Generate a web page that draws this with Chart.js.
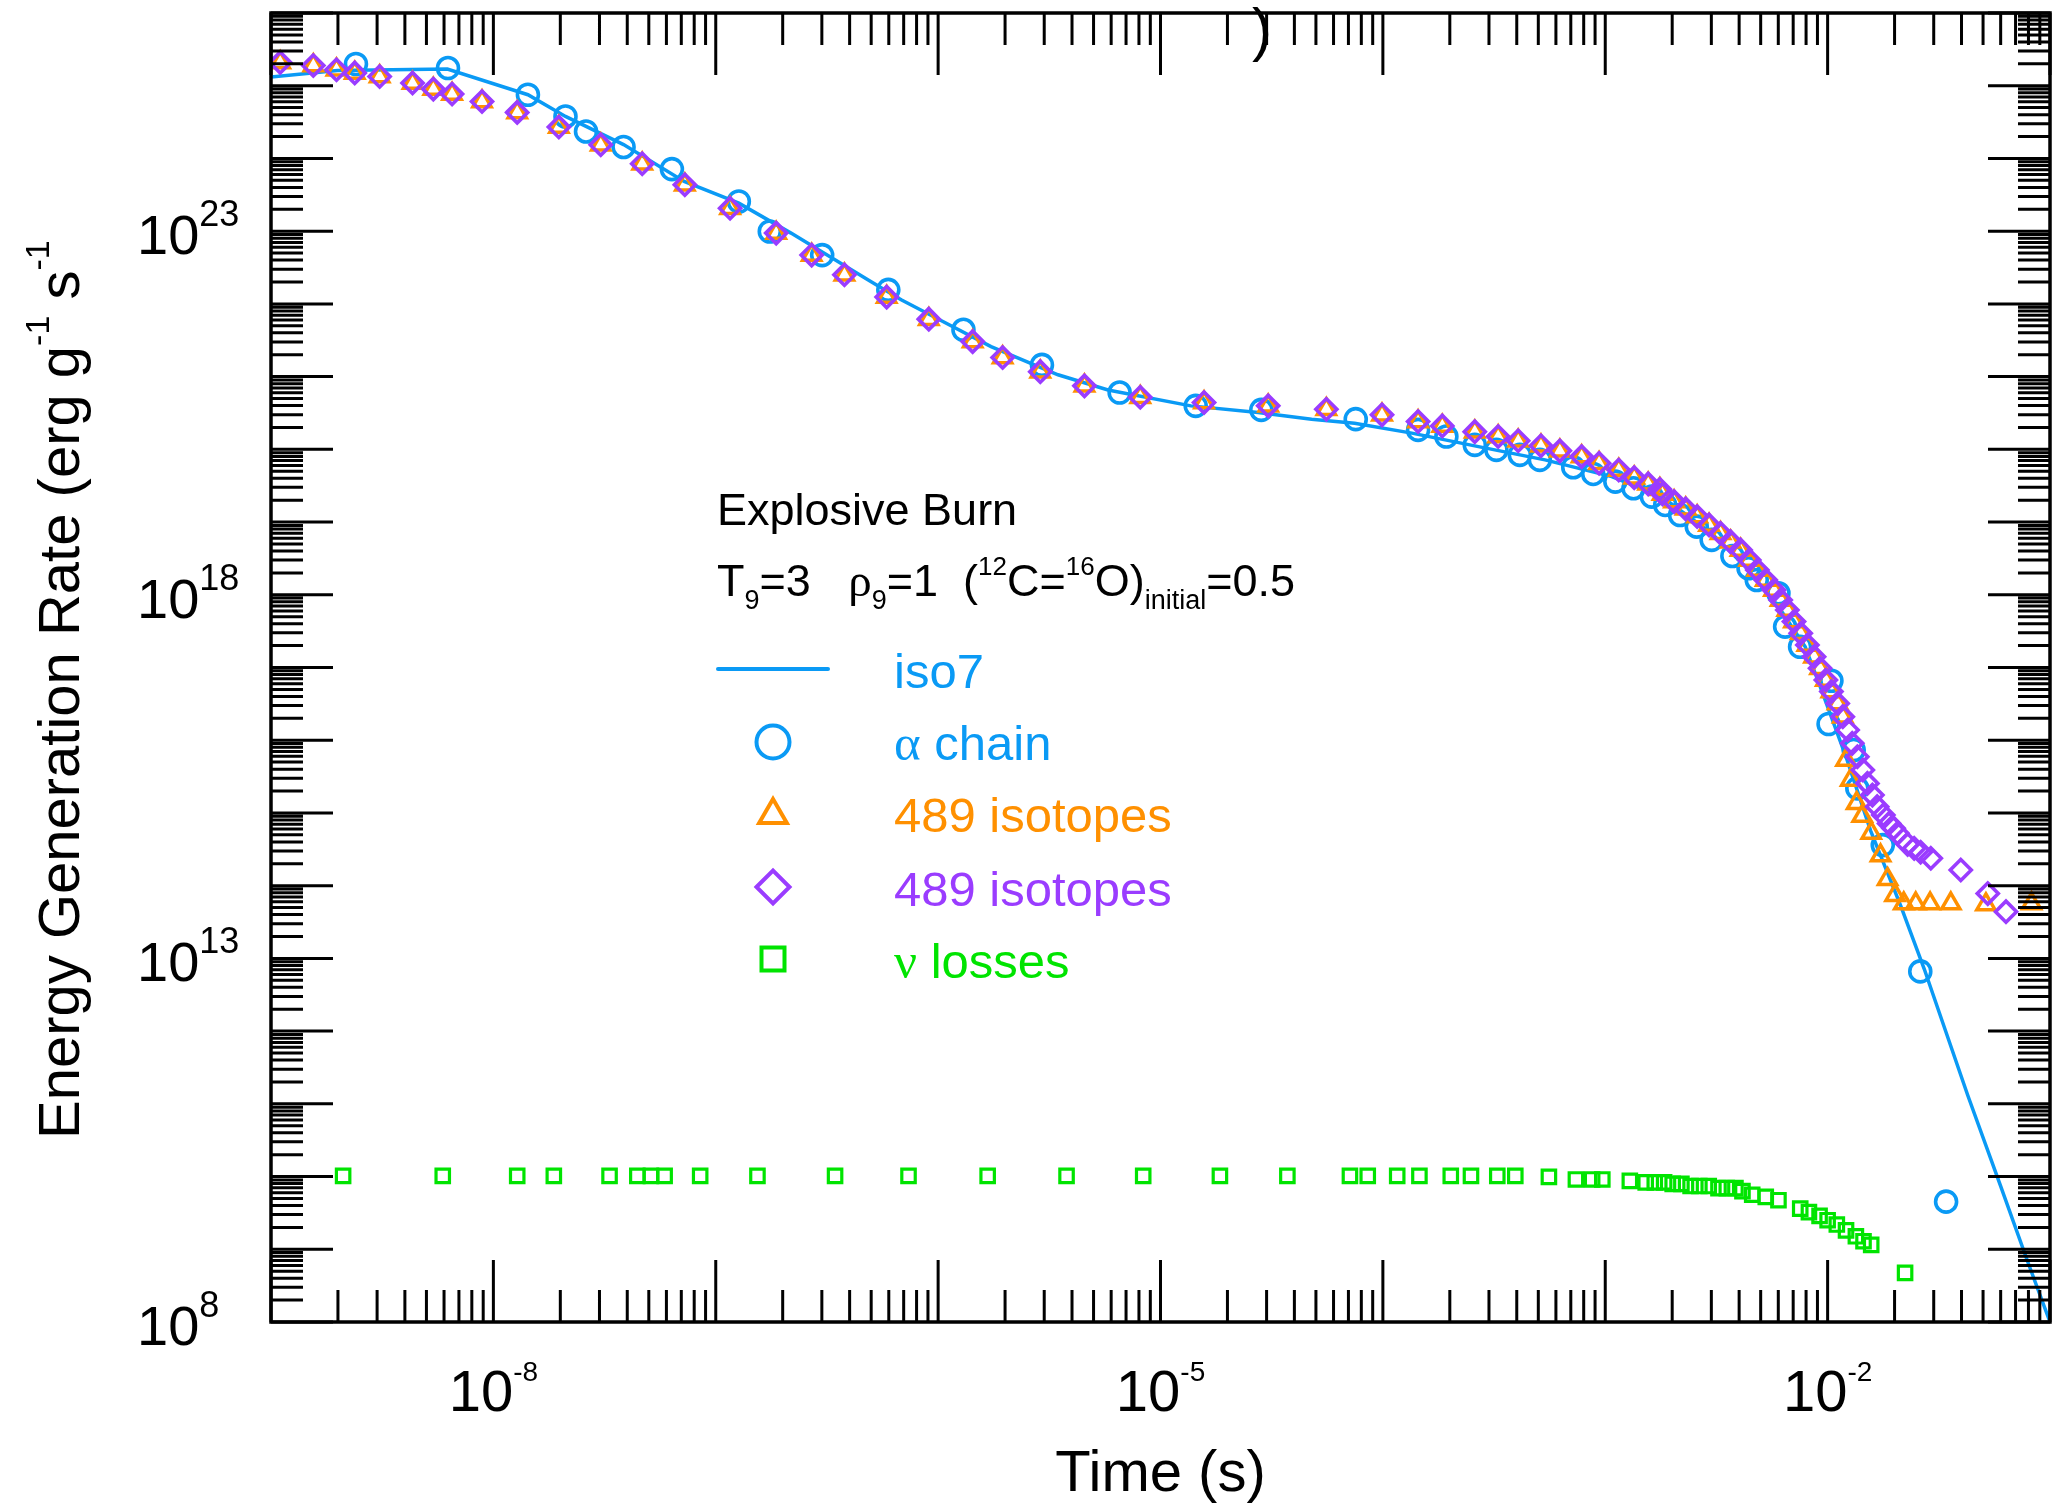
<!DOCTYPE html>
<html>
<head>
<meta charset="utf-8">
<title>Explosive Burn - energy generation rate</title>
<script src="https://cdn.jsdelivr.net/npm/chart.js@4.4.1/dist/chart.umd.min.js"></script>
<style>
  html, body { margin: 0; padding: 0; background: #fff; }
  #wrap { width: 2053px; height: 1505px; }
</style>
</head>
<body>
<div id="wrap"><canvas id="burnChart" width="2053" height="1505"></canvas></div>
<script>
// values (time in s, rate in erg/g/s)

// iso7 network (solid line)
const iso7Time = [1.00e-9, 1.99e-9, 6.21e-9, 1.43e-8, 2.11e-8, 3.85e-8, 7.21e-8, 1.27e-7, 2.18e-7,
  4.83e-7, 6.82e-7, 1.03e-6, 1.73e-6, 3.46e-6, 5.81e-6, 1.37e-5, 2.75e-5, 4.78e-5, 7.46e-5,
  1.35e-4, 2.69e-4, 5.36e-4, 1.07e-3, 1.79e-3, 3.01e-3, 4.26e-3, 6.01e-3, 7.93e-3, 9.75e-3,
  1.22e-2, 1.56e-2, 2.13e-2, 2.72e-2, 4.27e-2, 6.01e-2, 7.94e-2, 9.93e-2];
const iso7Rate = [1.32e25, 1.62e25, 1.70e25, 7.52e24, 3.78e24, 1.55e24, 4.82e23, 2.43e23, 9.40e22,
  2.14e22, 1.14e22, 5.90e21, 2.59e21, 1.06e21, 6.56e20, 3.96e20, 3.20e20, 2.60e20, 2.29e20,
  1.67e20, 1.09e20, 7.16e19, 4.22e19, 2.24e19, 7.01e18, 2.44e18, 6.87e17, 1.93e17, 3.57e16,
  5.50e15, 5.73e14, 5.31e13, 7.14e12, 1.30e11, 7.28e9, 6.73e8, 1.06e8];

// alpha chain (open circles)
const alphaTime = [2.41e-9, 6.25e-9, 1.43e-8, 2.11e-8, 2.61e-8, 3.85e-8, 6.35e-8, 1.27e-7, 1.75e-7,
  3.01e-7, 5.97e-7, 1.30e-6, 2.93e-6, 6.55e-6, 1.44e-5, 2.84e-5, 7.55e-5, 1.44e-4, 1.93e-4,
  2.59e-4, 3.24e-4, 4.13e-4, 5.08e-4, 7.18e-4, 8.83e-4, 1.11e-3, 1.34e-3, 1.62e-3, 1.86e-3,
  2.17e-3, 2.58e-3, 3.01e-3, 3.73e-3, 4.41e-3, 4.80e-3, 6.01e-3, 6.44e-3, 7.52e-3, 1.01e-2,
  1.04e-2, 1.31e-2, 1.36e-2, 1.77e-2, 2.61e-2, 3.41e-2];
const alphaRate = [1.99e25, 1.75e25, 7.52e24, 3.78e24, 2.35e24, 1.44e24, 7.14e23, 2.56e23, 9.91e22,
  4.69e22, 1.56e22, 4.40e21, 1.45e21, 6.04e20, 3.96e20, 3.49e20, 2.60e20, 1.85e20, 1.50e20,
  1.15e20, 9.82e19, 8.39e19, 7.16e19, 5.68e19, 4.59e19, 3.60e19, 2.92e19, 2.24e19, 1.72e19,
  1.25e19, 8.65e18, 5.68e18, 3.42e18, 2.32e18, 1.60e18, 1.05e18, 3.65e17, 1.93e17, 1.67e16,
  6.56e16, 7.33e15, 2.18e15, 3.61e14, 6.62e12, 4.52e9];

// 489 isotopes (open triangles)
const triTime = [1.10e-9, 1.55e-9, 1.97e-9, 2.38e-9, 3.08e-9, 4.33e-9, 5.37e-9, 6.52e-9, 8.89e-9,
  1.28e-8, 1.97e-8, 3.04e-8, 4.67e-8, 7.26e-8, 1.16e-7, 1.87e-7, 2.70e-7, 3.79e-7, 5.87e-7,
  9.08e-7, 1.43e-6, 1.95e-6, 2.88e-6, 4.55e-6, 8.11e-6, 1.57e-5, 3.05e-5, 5.57e-5, 9.91e-5,
  1.44e-4, 1.85e-4, 2.59e-4, 3.30e-4, 4.06e-4, 5.14e-4, 6.25e-4, 7.83e-4, 9.38e-4, 1.15e-3,
  1.35e-3, 1.56e-3, 1.76e-3, 1.81e-3, 2.04e-3, 2.30e-3, 2.59e-3, 2.93e-3, 3.30e-3, 3.66e-3,
  4.06e-3, 4.44e-3, 4.83e-3, 5.27e-3, 5.74e-3, 6.15e-3, 6.59e-3, 7.06e-3, 7.57e-3, 8.11e-3,
  8.69e-3, 9.25e-3, 9.82e-3, 1.04e-2, 1.11e-2, 1.17e-2, 1.21e-2, 1.27e-2, 1.35e-2, 1.43e-2,
  1.57e-2, 1.73e-2, 1.86e-2, 2.01e-2, 2.20e-2, 2.49e-2, 2.89e-2, 3.58e-2, 5.15e-2, 8.26e-2];
const triRate = [2.09e25, 1.90e25, 1.66e25, 1.50e25, 1.34e25, 1.09e25, 8.99e24, 7.69e24, 6.08e24,
  4.30e24, 2.70e24, 1.54e24, 8.45e23, 4.35e23, 2.07e23, 9.40e22, 4.69e22, 2.51e22, 1.24e22,
  6.17e21, 3.03e21, 1.83e21, 1.17e21, 7.46e20, 5.21e20, 4.40e20, 3.96e20, 3.56e20, 2.98e20,
  2.41e20, 2.10e20, 1.75e20, 1.50e20, 1.31e20, 1.12e20, 9.53e19, 7.94e19, 6.44e19, 5.21e19,
  4.08e19, 3.35e19, 2.83e19, 2.44e19, 1.91e19, 1.52e19, 1.19e19, 9.14e18, 7.01e18, 5.38e18,
  4.14e18, 3.01e18, 2.19e18, 1.60e18, 1.16e18, 8.49e17, 6.18e17, 4.28e17, 2.95e17, 2.04e17,
  1.41e17, 9.75e16, 6.73e16, 4.66e16, 3.21e16, 2.11e16, 5.35e15, 2.84e15, 1.36e15, 9.06e14,
  5.30e14, 2.59e14, 1.23e14, 7.41e13, 5.68e13, 5.68e13, 5.68e13, 5.68e13, 5.53e13, 5.68e13];

// 489 isotopes (open diamonds)
const diaTime = [1.10e-9, 1.55e-9, 1.97e-9, 2.38e-9, 3.08e-9, 4.33e-9, 5.37e-9, 6.52e-9, 8.89e-9,
  1.28e-8, 1.97e-8, 3.04e-8, 4.67e-8, 7.26e-8, 1.16e-7, 1.87e-7, 2.70e-7, 3.79e-7, 5.87e-7,
  9.08e-7, 1.43e-6, 1.95e-6, 2.88e-6, 4.55e-6, 8.11e-6, 1.57e-5, 3.05e-5, 5.57e-5, 9.91e-5,
  1.44e-4, 1.85e-4, 2.59e-4, 3.30e-4, 4.06e-4, 5.14e-4, 6.25e-4, 7.83e-4, 9.38e-4, 1.15e-3,
  1.35e-3, 1.56e-3, 1.76e-3, 1.81e-3, 2.04e-3, 2.30e-3, 2.59e-3, 2.93e-3, 3.30e-3, 3.66e-3,
  4.06e-3, 4.44e-3, 4.83e-3, 5.27e-3, 5.74e-3, 6.15e-3, 6.59e-3, 7.06e-3, 7.57e-3, 8.11e-3,
  8.69e-3, 9.25e-3, 9.82e-3, 1.04e-2, 1.11e-2, 1.17e-2, 1.23e-2, 1.29e-2, 1.36e-2, 1.44e-2,
  1.51e-2, 1.59e-2, 1.67e-2, 1.78e-2, 1.89e-2, 1.98e-2, 2.06e-2, 2.29e-2, 2.45e-2, 2.62e-2,
  2.91e-2, 3.97e-2, 5.25e-2, 6.34e-2];
const diaRate = [2.09e25, 1.90e25, 1.66e25, 1.50e25, 1.34e25, 1.09e25, 8.99e24, 7.69e24, 6.08e24,
  4.30e24, 2.70e24, 1.54e24, 8.45e23, 4.35e23, 2.07e23, 9.40e22, 4.69e22, 2.51e22, 1.24e22,
  6.17e21, 3.03e21, 1.83e21, 1.17e21, 7.46e20, 5.21e20, 4.40e20, 3.96e20, 3.56e20, 2.98e20,
  2.41e20, 2.10e20, 1.75e20, 1.50e20, 1.31e20, 1.12e20, 9.53e19, 7.94e19, 6.44e19, 5.21e19,
  4.08e19, 3.35e19, 2.83e19, 2.44e19, 1.91e19, 1.52e19, 1.19e19, 9.14e18, 7.01e18, 5.38e18,
  4.14e18, 3.01e18, 2.19e18, 1.60e18, 1.16e18, 8.49e17, 6.18e17, 4.28e17, 2.95e17, 2.04e17,
  1.41e17, 9.75e16, 6.73e16, 4.66e16, 3.21e16, 2.11e16, 1.38e16, 9.06e15, 5.93e15, 3.89e15,
  2.55e15, 1.76e15, 1.22e15, 9.35e14, 7.18e14, 6.14e14, 5.24e14, 3.70e14, 3.26e14, 2.88e14,
  2.38e14, 1.64e14, 7.78e13, 4.39e13];

// neutrino losses (open squares)
const nuTime = [2.11e-9, 5.92e-9, 1.28e-8, 1.87e-8, 3.33e-8, 4.44e-8, 5.11e-8, 5.89e-8, 8.51e-8,
  1.54e-7, 3.44e-7, 7.36e-7, 1.67e-6, 3.78e-6, 8.36e-6, 1.85e-5, 3.72e-5, 7.11e-5, 8.55e-5,
  1.16e-4, 1.46e-4, 2.02e-4, 2.49e-4, 3.27e-4, 3.94e-4, 5.58e-4, 7.38e-4, 8.73e-4, 9.70e-4,
  1.29e-3, 1.52e-3, 1.67e-3, 1.84e-3, 2.01e-3, 2.20e-3, 2.42e-3, 2.65e-3, 2.92e-3, 3.23e-3,
  3.52e-3, 3.85e-3, 4.14e-3, 4.58e-3, 5.27e-3, 6.01e-3, 7.53e-3, 8.24e-3, 9.20e-3, 1.00e-2,
  1.10e-2, 1.21e-2, 1.34e-2, 1.45e-2, 1.57e-2, 2.23e-2];
const nuRate = [1.02e10, 1.02e10, 1.02e10, 1.02e10, 1.02e10, 1.02e10, 1.02e10, 1.02e10, 1.02e10,
  1.02e10, 1.02e10, 1.02e10, 1.02e10, 1.02e10, 1.02e10, 1.02e10, 1.02e10, 1.02e10, 1.02e10,
  1.02e10, 1.02e10, 1.02e10, 1.02e10, 1.02e10, 1.02e10, 9.89e9, 9.12e9, 9.12e9, 9.12e9,
  8.71e9, 8.32e9, 8.32e9, 8.32e9, 7.94e9, 7.94e9, 7.41e9, 7.41e9, 7.41e9, 6.92e9,
  6.92e9, 6.92e9, 6.31e9, 5.62e9, 5.25e9, 4.73e9, 3.63e9, 3.24e9, 2.88e9, 2.51e9,
  2.19e9, 1.82e9, 1.51e9, 1.29e9, 1.15e9, 4.73e8];

// labelled ticks
const xLabelTicks = [1e-8, 1e-5, 1e-2];
const yLabelTicks = [1e8, 1e13, 1e18, 1e23];

const BLUE = '#0a9af5';
const ORANGE = '#ff9000';
const PURPLE = '#9a3cff';
const GREEN = '#00e400';
const SANS = '"Liberation Sans", Arial, Helvetica, sans-serif';
const SERIF = '"Liberation Serif", "Times New Roman", serif';

function pts(xs, ys) {
  return xs.map((t, i) => ({ x: t, y: ys[i] }));
}

// draw pieces of text one after another (for sub/superscripts)
function drawRuns(ctx, x, y, runs) {
  for (const r of runs) {
    ctx.font = r.size + 'px ' + (r.serif ? SERIF : SANS);
    ctx.fillText(r.text, x, y + (r.dy || 0));
    x += ctx.measureText(r.text).width;
  }
  return x;
}
function runsWidth(ctx, runs) {
  let w = 0;
  for (const r of runs) {
    ctx.font = r.size + 'px ' + (r.serif ? SERIF : SANS);
    w += ctx.measureText(r.text).width;
  }
  return w;
}

function legendMarker(ctx, style, cx, cy, r) {
  ctx.beginPath();
  if (style === 'circle') {
    ctx.arc(cx, cy, r, 0, Math.PI * 2);
  } else if (style === 'triangle') {
    ctx.moveTo(cx, cy - r);
    ctx.lineTo(cx + r * 0.866, cy + r / 2);
    ctx.lineTo(cx - r * 0.866, cy + r / 2);
    ctx.closePath();
  } else if (style === 'diamond') {
    ctx.moveTo(cx - r, cy);
    ctx.lineTo(cx, cy - r);
    ctx.lineTo(cx + r, cy);
    ctx.lineTo(cx, cy + r);
    ctx.closePath();
  } else {
    ctx.rect(cx - r, cy - r, 2 * r, 2 * r);
  }
  ctx.stroke();
}

// frame, inward ticks on all four sides, labels and the annotation
const axesPlugin = {
  id: 'idlAxes',
  afterDraw(chart) {
    const { ctx, chartArea: a, scales: { x, y } } = chart;
    ctx.save();
    ctx.strokeStyle = '#000';
    ctx.fillStyle = '#000';
    ctx.lineWidth = 3;
    ctx.beginPath();
    for (let e = -9; e <= -1; e++) {
      for (let k = 1; k <= 9; k++) {
        if (e === -1 && k > 1) break;
        const px = x.getPixelForValue(k * Math.pow(10, e));
        const len = k === 1 ? 62 : 32;
        ctx.moveTo(px, a.bottom); ctx.lineTo(px, a.bottom - len);
        ctx.moveTo(px, a.top); ctx.lineTo(px, a.top + len);
      }
    }
    for (let e = 8; e <= 26; e++) {
      for (let k = 1; k <= 9; k++) {
        if (e === 26 && k > 1) break;
        const py = y.getPixelForValue(k * Math.pow(10, e));
        const len = k === 1 ? 62 : 32;
        ctx.moveTo(a.left, py); ctx.lineTo(a.left + len, py);
        ctx.moveTo(a.right, py); ctx.lineTo(a.right - len, py);
      }
    }
    ctx.stroke();
    ctx.lineWidth = 3.5;
    ctx.strokeRect(a.left, a.top, a.right - a.left, a.bottom - a.top);

    // tick labels
    ctx.textAlign = 'left';
    ctx.textBaseline = 'alphabetic';
    yLabelTicks.forEach(v => {
      const py = y.getPixelForValue(v);
      const ex = String(Math.round(Math.log10(v)));
      drawRuns(ctx, 137, py + 23, [
        { text: '10', size: 56 },
        { text: ex, size: 36, dy: -28 }
      ]);
    });
    xLabelTicks.forEach(v => {
      const px = x.getPixelForValue(v);
      const ex = String(Math.round(Math.log10(v)));
      const runs = [{ text: '10', size: 58 }, { text: ex, size: 28, dy: -30 }];
      drawRuns(ctx, px - runsWidth(ctx, runs) / 2, 1411, runs);
    });

    // axis titles
    ctx.font = '58px ' + SANS;
    ctx.textAlign = 'center';
    ctx.fillText('Time (s)', (a.left + a.right) / 2, 1491);
    ctx.textAlign = 'left';
    ctx.save();
    ctx.translate(79, 1139);
    ctx.rotate(-Math.PI / 2);
    drawRuns(ctx, 0, 0, [
      { text: 'Energy Generation Rate (erg g', size: 58 },
      { text: '-1', size: 34, dy: -30 },
      { text: ' s', size: 58 },
      { text: '-1', size: 34, dy: -30 }
    ]);
    ctx.restore();
    // stray closing bracket at the top of the frame
    ctx.font = '60px ' + SANS;
    ctx.fillText(')', 1252, 50);

    // annotation
    ctx.font = '45px ' + SANS;
    ctx.fillText('Explosive Burn', 717, 525);
    drawRuns(ctx, 717, 596, [
      { text: 'T', size: 45 },
      { text: '9', size: 27, dy: 13 },
      { text: '=3   ', size: 45 },
      { text: 'ρ', size: 47, serif: true },
      { text: '9', size: 27, dy: 13 },
      { text: '=1  (', size: 45 },
      { text: '12', size: 26, dy: -21 },
      { text: 'C=', size: 45 },
      { text: '16', size: 26, dy: -21 },
      { text: 'O)', size: 45 },
      { text: 'initial', size: 27, dy: 13 },
      { text: '=0.5', size: 45 }
    ]);

    // legend
    ctx.lineWidth = 4;
    ctx.lineCap = 'round';
    ctx.strokeStyle = BLUE;
    ctx.beginPath();
    ctx.moveTo(718, 669); ctx.lineTo(828, 669);
    ctx.stroke();
    ctx.lineCap = 'butt';
    const rows = [
      { style: 'circle', color: BLUE, cy: 742, r: 16.5, base: 760, runs: [{ text: 'α', size: 51, serif: true }, { text: ' chain', size: 49 }] },
      { style: 'triangle', color: ORANGE, cy: 815, r: 16, base: 832, runs: [{ text: '489 isotopes', size: 49 }] },
      { style: 'diamond', color: PURPLE, cy: 887, r: 16.5, base: 906, runs: [{ text: '489 isotopes', size: 49 }] },
      { style: 'square', color: GREEN, cy: 959, r: 11.5, base: 978, runs: [{ text: 'ν', size: 51, serif: true }, { text: ' losses', size: 49 }] }
    ];
    ctx.fillStyle = BLUE;
    drawRuns(ctx, 894, 688, [{ text: 'iso7', size: 49 }]);
    rows.forEach(r => {
      ctx.strokeStyle = r.color;
      ctx.fillStyle = r.color;
      legendMarker(ctx, r.style, 773, r.cy, r.r);
      drawRuns(ctx, 894, r.base, r.runs);
    });
    ctx.restore();
  }
};

const canvas = document.getElementById('burnChart');
const burnChart = new Chart(canvas.getContext('2d'), {
  type: 'scatter',
  data: {
    datasets: [
      {
        label: 'iso7',
        data: pts(iso7Time, iso7Rate),
        showLine: true,
        borderColor: BLUE,
        borderWidth: 3.5,
        pointRadius: 0,
        tension: 0,
        order: 5
      },
      {
        label: 'α chain',
        data: pts(alphaTime, alphaRate),
        pointStyle: 'circle',
        pointRadius: 10.5,
        pointBorderWidth: 3.6,
        borderColor: BLUE,
        backgroundColor: 'rgba(0,0,0,0)',
        order: 4
      },
      {
        label: '489 isotopes',
        data: pts(triTime, triRate),
        pointStyle: 'triangle',
        pointRadius: 10.5,
        pointBorderWidth: 3.5,
        borderColor: ORANGE,
        backgroundColor: 'rgba(0,0,0,0)',
        order: 3
      },
      {
        label: '489 isotopes',
        data: pts(diaTime, diaRate),
        pointStyle: 'rectRot',
        pointRadius: 10.5,
        pointBorderWidth: 3.6,
        borderColor: PURPLE,
        backgroundColor: 'rgba(0,0,0,0)',
        order: 2
      },
      {
        label: 'ν losses',
        data: pts(nuTime, nuRate),
        pointStyle: 'rect',
        pointRadius: 9.5,
        pointBorderWidth: 3.2,
        borderColor: GREEN,
        backgroundColor: 'rgba(0,0,0,0)',
        order: 1
      }
    ]
  },
  options: {
    responsive: false,
    animation: false,
    devicePixelRatio: 1,
    events: [],
    layout: { autoPadding: false, padding: { left: 271, top: 13, right: 3, bottom: 183 } },
    plugins: { legend: { display: false }, tooltip: { enabled: false } },
    scales: {
      x: { type: 'logarithmic', min: 1e-9, max: 1e-1, display: false },
      y: { type: 'logarithmic', min: 1e8, max: 1e26, display: false }
    }
  },
  plugins: [axesPlugin]
});
</script>
</body>
</html>
